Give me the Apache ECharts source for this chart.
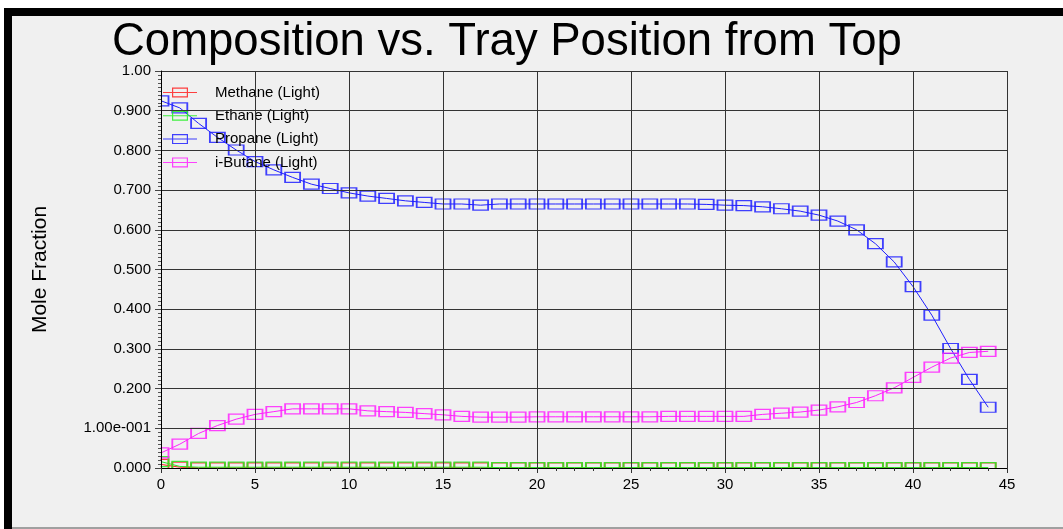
<!DOCTYPE html>
<html>
<head>
<meta charset="utf-8">
<script src="https://cdn.jsdelivr.net/npm/echarts@6/dist/echarts.min.js"></script>
<style>
  html, body { margin: 0; padding: 0; background: #ffffff; }
  #chart { width: 1063px; height: 529px; }
</style>
</head>
<body>
<div id="chart"></div>
<script>
// Tray numbers counted from the top of the column
const trays = [0, 1, 2, 3, 4, 5, 6, 7, 8, 9, 10, 11, 12, 13, 14, 15, 16, 17, 18, 19, 20, 21, 22,
  23, 24, 25, 26, 27, 28, 29, 30, 31, 32, 33, 34, 35, 36, 37, 38, 39, 40, 41, 42, 43, 44];

// Light-phase mole fractions per tray
const methane = [0.009, 0.002, 0.0005, 0.0005, 0.0005, 0.0005, 0.0005, 0.0005, 0.0005, 0.0005,
  0.0005, 0.0005, 0.0005, 0.0005, 0.0005, 0.0005, 0.0005, 0.0005, 0.0003, 0.0003, 0.0003, 0.0003,
  0.0003, 0.0003, 0.0003, 0.0003, 0.0003, 0.0003, 0.0003, 0.0003, 0.0003, 0.0003, 0.0003, 0.0003,
  0.0003, 0.0003, 0.0003, 0.0003, 0.0003, 0.0003, 0.0003, 0.0003, 0.0003, 0.0003, 0.0003];

const ethane = [0.016, 0.004, 0.002, 0.002, 0.002, 0.002, 0.002, 0.002, 0.002, 0.002, 0.002,
  0.002, 0.002, 0.002, 0.002, 0.002, 0.002, 0.002, 0.001, 0.001, 0.001, 0.001, 0.001, 0.001,
  0.001, 0.001, 0.001, 0.001, 0.001, 0.001, 0.001, 0.001, 0.001, 0.001, 0.001, 0.001, 0.001,
  0.001, 0.001, 0.001, 0.001, 0.001, 0.001, 0.001, 0.001];

const propane = [0.925, 0.907, 0.868, 0.833, 0.801, 0.772, 0.751, 0.732, 0.715, 0.704, 0.693,
  0.685, 0.679, 0.673, 0.669, 0.665, 0.665, 0.662, 0.665, 0.665, 0.665, 0.665, 0.665, 0.665,
  0.665, 0.665, 0.665, 0.665, 0.665, 0.664, 0.662, 0.661, 0.658, 0.653, 0.647, 0.637, 0.622,
  0.600, 0.565, 0.519, 0.457, 0.385, 0.301, 0.223, 0.153];

const iButane = [0.038, 0.060, 0.087, 0.107, 0.123, 0.135, 0.142, 0.149, 0.149, 0.149, 0.149,
  0.144, 0.142, 0.140, 0.137, 0.134, 0.130, 0.128, 0.128, 0.128, 0.129, 0.129, 0.129, 0.129,
  0.129, 0.129, 0.129, 0.130, 0.130, 0.130, 0.130, 0.130, 0.135, 0.138, 0.141, 0.146, 0.154,
  0.165, 0.182, 0.202, 0.228, 0.254, 0.277, 0.291, 0.294];

const seriesNames = ['Methane (Light)', 'Ethane (Light)', 'Propane (Light)', 'i-Butane (Light)'];
const seriesColors = ['#ff2020', '#22ee22', '#2020ff', '#ff22ff'];
const seriesValues = [methane, ethane, propane, iButane];

const titleText = 'Composition vs. Tray Position from Top';
const yAxisTitle = 'Mole Fraction';

const FONT = '"Liberation Sans", Arial, sans-serif';

// Legend key: a horizontal stroke through a hollow rectangle (hole cut by reverse winding)
const LEGEND_ICON = 'path://M0 4.5H34V5.5H0Z M9 0H25V10H9Z M10.2 1.2V8.8H23.8V1.2Z';

function yLabel(v) {
  if (Math.abs(v - 1) < 1e-9) return '1.00';
  if (Math.abs(v) < 1e-9) return '0.000';
  if (Math.abs(v - 0.1) < 1e-9) return '1.00e-001';
  return v.toFixed(3);
}

const chart = echarts.init(document.getElementById('chart'), null, { renderer: 'canvas' });

const series = seriesNames.map((name, i) => ({
  name: name,
  type: 'line',
  data: trays.map((t, k) => [t, seriesValues[i][k]]),
  symbol: 'rect',
  symbolSize: [15, 10],
  showAllSymbol: true,
  lineStyle: { color: seriesColors[i], width: 1 },
  itemStyle: { color: 'rgba(0,0,0,0)', borderColor: seriesColors[i], borderWidth: 1.5, opacity: 0.85 },
  emphasis: { disabled: true },
  animation: false,
  z: 2
}));

chart.setOption({
  backgroundColor: '#f0f0f0',
  animation: false,
  title: {
    text: titleText,
    left: 107,
    top: 14,
    textStyle: { fontFamily: FONT, fontSize: 45.5, fontWeight: 'normal', color: '#000' }
  },
  legend: {
    data: seriesNames.map((n, i) => ({
      name: n,
      icon: LEGEND_ICON,
      itemStyle: { color: seriesColors[i], borderWidth: 0, opacity: 0.85 }
    })),
    orient: 'vertical',
    left: 158,
    top: 80,
    itemWidth: 34,
    itemHeight: 10,
    itemGap: 8.3,
    symbolKeepAspect: false,
    textStyle: { fontFamily: FONT, fontSize: 15, color: '#000', padding: [0, 0, 0, 13] }
  },
  grid: { left: 161, top: 71, right: 56, bottom: 61, containLabel: false },
  xAxis: {
    type: 'value',
    min: 0,
    max: 45,
    interval: 5,
    z: 60,
    axisLine: { show: true, onZero: false, lineStyle: { color: '#000', width: 1 } },
    axisTick: { show: true, length: 5, lineStyle: { color: '#333' } },
    minorTick: { show: true, splitNumber: 5, length: 3, lineStyle: { color: '#333' } },
    axisLabel: { fontFamily: FONT, fontSize: 15, color: '#000', margin: 9 },
    splitLine: { show: true, lineStyle: { color: '#333', width: 1 } }
  },
  yAxis: {
    type: 'value',
    min: 0,
    max: 1,
    interval: 0.1,
    z: 60,
    name: yAxisTitle,
    nameLocation: 'middle',
    nameGap: 110,
    nameTextStyle: { fontFamily: FONT, fontSize: 21, color: '#000' },
    axisLine: { show: true, lineStyle: { color: '#000', width: 1 } },
    axisTick: { show: true, length: 6, lineStyle: { color: '#444' } },
    minorTick: { show: true, splitNumber: 10, length: 3, lineStyle: { color: '#555' } },
    axisLabel: { fontFamily: FONT, fontSize: 15, color: '#000', margin: 10, formatter: yLabel },
    splitLine: { show: true, lineStyle: { color: '#333', width: 1 } }
  },
  graphic: {
    elements: [
      // white strip above the frame and to its left
      { type: 'rect', shape: { x: 0, y: 0, width: 1063, height: 8 }, style: { fill: '#ffffff' }, z: 100 },
      { type: 'rect', shape: { x: 0, y: 0, width: 4, height: 529 }, style: { fill: '#ffffff' }, z: 100 },
      // black frame edges
      { type: 'rect', shape: { x: 4, y: 8, width: 1059, height: 8 }, style: { fill: '#000000' }, z: 100 },
      { type: 'rect', shape: { x: 4, y: 8, width: 8, height: 521 }, style: { fill: '#000000' }, z: 100 },
      { type: 'rect', shape: { x: 12, y: 527, width: 1051, height: 2 }, style: { fill: '#a0a0a0' }, z: 100 },
      // hide marker overflow outside the plotting area
      { type: 'rect', shape: { x: 150, y: 468.5, width: 870, height: 9 }, style: { fill: '#f0f0f0' }, z: 50 },
      { type: 'rect', shape: { x: 151, y: 71, width: 9.5, height: 410 }, style: { fill: '#f0f0f0' }, z: 50 }
    ]
  },
  series: series
});
</script>
</body>
</html>
